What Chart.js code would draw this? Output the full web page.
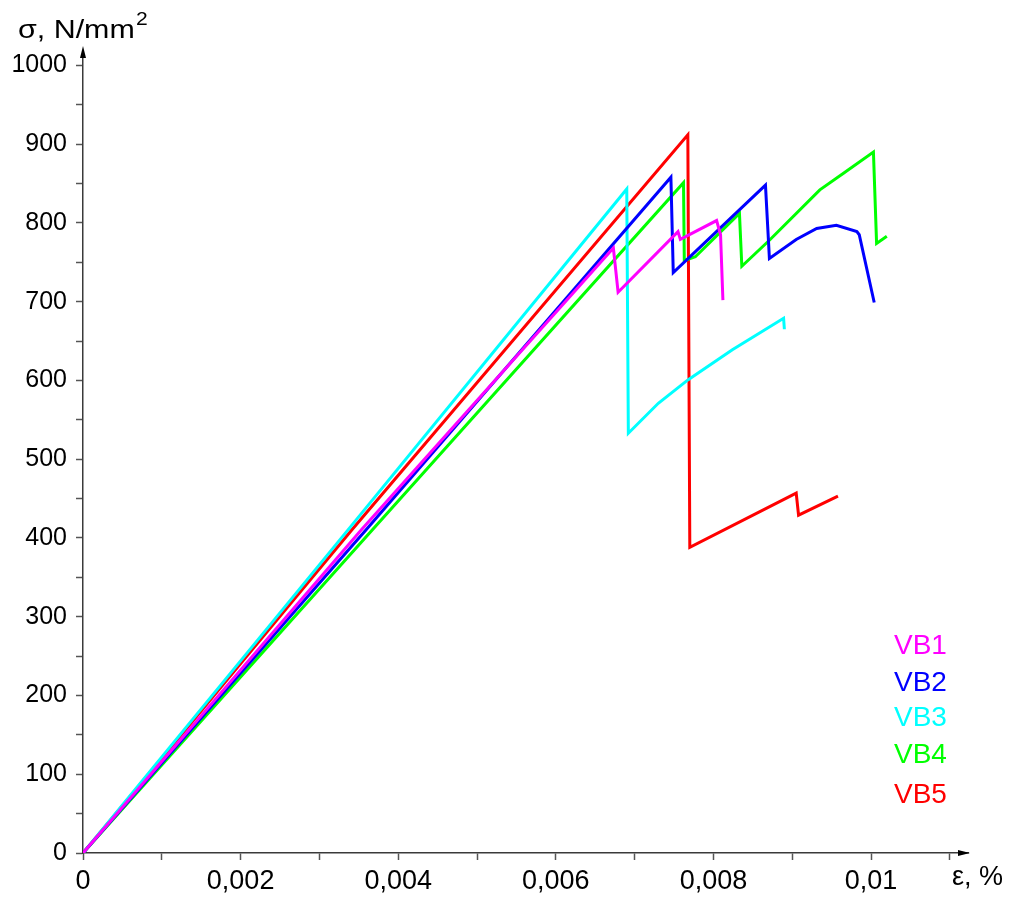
<!DOCTYPE html>
<html>
<head>
<meta charset="utf-8">
<script src="https://cdn.jsdelivr.net/npm/chart.js@4"></script>
<style>
  html, body { margin: 0; padding: 0; background: #fff; }
  #wrap { width: 1016px; height: 897px; position: relative; }
</style>
</head>
<body>
<div id="wrap"><canvas id="stress-chart"></canvas></div>
<script>
// series: strain (%) and stress (N/mm2)
const seriesNames = ['VB1', 'VB2', 'VB3', 'VB4', 'VB5'];
const seriesColors = ['#ff00ff', '#0000ff', '#00ffff', '#00ff00', '#ff0000'];

const vb1Strain = [0, 0.00353, 0.00673, 0.00679, 0.00755, 0.00758, 0.00804, 0.00809, 0.00812];
const vb1Stress = [0, 410, 768, 712, 789, 779, 803, 785, 702];

const vb2Strain = [0, 0.00359, 0.00746, 0.00749, 0.00866, 0.00871, 0.00905, 0.00931, 0.00956, 0.00982, 0.00985, 0.01004];
const vb2Stress = [0, 410, 858, 737, 848, 755, 779, 793, 797, 789, 785, 699];

const vb3Strain = [0, 0.00336, 0.00690, 0.00692, 0.00730, 0.00768, 0.00824, 0.00889, 0.00890];
const vb3Stress = [0, 410, 843, 533, 571, 601, 639, 679, 665];

const vb4Strain = [0, 0.00367, 0.00762, 0.00763, 0.00777, 0.00833, 0.00836, 0.00871, 0.00935, 0.00965, 0.01003, 0.01007, 0.01020];
const vb4Stress = [0, 410, 851, 752, 757, 812, 745, 778, 842, 863, 890, 774, 783];

const vb5Strain = [0, 0.00341, 0.007675, 0.00770, 0.00905, 0.00908, 0.00958];
const vb5Stress = [0, 410, 912, 388, 457, 429, 453];

const strainSets = [vb1Strain, vb2Strain, vb3Strain, vb4Strain, vb5Strain];
const stressSets = [vb1Stress, vb2Stress, vb3Stress, vb4Stress, vb5Stress];

const xTickValues = [0, 0.001, 0.002, 0.003, 0.004, 0.005, 0.006, 0.007, 0.008, 0.009, 0.01, 0.011];
const xTickLabels = ['0', '', '0,002', '', '0,004', '', '0,006', '', '0,008', '', '0,01', ''];
const yTickValues = [0, 50, 100, 150, 200, 250, 300, 350, 400, 450, 500, 550, 600, 650, 700, 750, 800, 850, 900, 950, 1000];

const FONT = 'Liberation Sans, Arial, sans-serif';
const AXIS_COLOR = '#3a3a3a';

// arrows, axis titles and the coloured names
const decorations = {
  id: 'decorations',
  afterDraw(chart) {
    const ctx = chart.ctx;
    const area = chart.chartArea;
    ctx.save();
    ctx.fillStyle = '#000';
    // y arrow
    ctx.beginPath();
    ctx.moveTo(area.left, area.top - 6);
    ctx.lineTo(area.left - 3, area.top + 6);
    ctx.lineTo(area.left + 3, area.top + 6);
    ctx.closePath();
    ctx.fill();
    // x arrow
    ctx.beginPath();
    ctx.moveTo(area.right + 2, area.bottom);
    ctx.lineTo(area.right - 10, area.bottom - 3);
    ctx.lineTo(area.right - 10, area.bottom + 3);
    ctx.closePath();
    ctx.fill();

    ctx.textBaseline = 'alphabetic';
    ctx.textAlign = 'left';
    // y title, a bit wider than the font as in the source
    ctx.save();
    ctx.translate(18, 38);
    ctx.scale(1.17, 1);
    ctx.font = '26px ' + FONT;
    const t = 'σ, N/mm';
    ctx.fillText(t, 0, 0);
    const w = ctx.measureText(t).width;
    ctx.font = '18px ' + FONT;
    ctx.fillText('2', w + 1, -13);
    ctx.restore();

    ctx.font = '27px ' + FONT;
    ctx.fillText('ε, %', 952, 885);

    ctx.font = '28px ' + FONT;
    ctx.textBaseline = 'middle';
    const legendY = [646, 683, 718, 755, 795];
    seriesNames.forEach((name, i) => {
      ctx.fillStyle = seriesColors[i];
      ctx.fillText(name, 894, legendY[i]);
    });
    ctx.restore();
  }
};

new Chart(document.getElementById('stress-chart'), {
  type: 'line',
  data: {
    datasets: seriesNames.map((name, i) => ({
      label: name,
      data: strainSets[i].map((x, j) => ({x: x, y: stressSets[i][j]})),
      borderColor: seriesColors[i],
      borderWidth: 3,
      pointRadius: 0,
      tension: 0,
      fill: false
    }))
  },
  options: {
    responsive: true,
    maintainAspectRatio: false,
    animation: false,
    layout: {
      padding: {top: 52, right: 48, left: 0, bottom: 0}
    },
    plugins: {
      legend: {display: false},
      tooltip: {enabled: false}
    },
    scales: {
      x: {
        type: 'linear',
        min: 0,
        max: 0.01123,
        afterBuildTicks: axis => { axis.ticks = xTickValues.map(v => ({value: v})); },
        afterFit: axis => { axis.height = 44; },
        border: {display: true, color: AXIS_COLOR, width: 1.5},
        grid: {drawOnChartArea: false, drawTicks: true, tickLength: 7, tickColor: '#555', tickWidth: 1.5},
        ticks: {
          autoSkip: false,
          maxRotation: 0,
          padding: 5,
          color: '#000',
          font: {family: FONT, size: 27},
          callback: (value, index) => xTickLabels[index]
        }
      },
      y: {
        min: 0,
        max: 1017,
        afterBuildTicks: axis => { axis.ticks = yTickValues.map(v => ({value: v})); },
        afterFit: axis => { axis.width = 83; },
        border: {display: true, color: AXIS_COLOR, width: 1.5},
        grid: {drawOnChartArea: false, drawTicks: true, tickLength: 7, tickColor: '#555', tickWidth: 1.5},
        ticks: {
          autoSkip: false,
          padding: 9,
          color: '#000',
          font: {family: FONT, size: 25},
          callback: value => (value % 100 === 0 ? String(value) : '')
        }
      }
    }
  },
  plugins: [decorations]
});
</script>
</body>
</html>
